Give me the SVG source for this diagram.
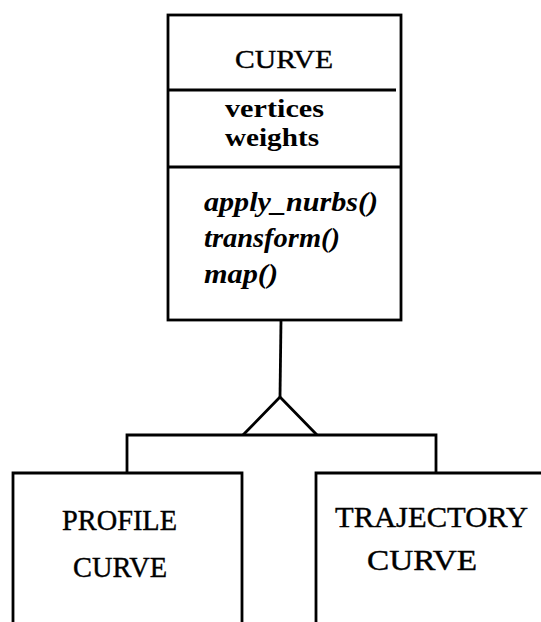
<svg xmlns="http://www.w3.org/2000/svg" width="541" height="622" viewBox="0 0 541 622">
  <style>
    .box { fill: none; stroke: #000; stroke-width: 2.8; stroke-linejoin: miter; }
    .conn { fill: none; stroke: #000; stroke-width: 2.8; stroke-linejoin: miter; }
    .title { font-family: "Liberation Serif", "Times New Roman", serif; font-size: 26px; fill: #000; stroke: #000; stroke-width: 0.4; }
    .attr { font-family: "Liberation Serif", "Times New Roman", serif; font-size: 26px; font-weight: bold; fill: #000; }
    .op { font-family: "Liberation Serif", "Times New Roman", serif; font-size: 27px; font-weight: bold; font-style: italic; fill: #000; }
    .sub { font-family: "Liberation Serif", "Times New Roman", serif; font-size: 29px; fill: #000; stroke: #000; stroke-width: 0.4; }
  </style>
  <rect width="541" height="622" fill="#fff"/>

  <!-- Superclass CURVE with attribute and operation compartments -->
  <g id="curve">
    <rect class="box" x="168" y="15" width="233" height="305"/>
    <line class="box" x1="168" y1="90" x2="396" y2="90"/>
    <line class="box" x1="168" y1="167" x2="401" y2="167"/>
    <text class="title" x="235" y="68" textLength="98" lengthAdjust="spacingAndGlyphs">CURVE</text>
    <text class="attr" x="225" y="117" textLength="99" lengthAdjust="spacingAndGlyphs">vertices</text>
    <text class="attr" x="225" y="146" textLength="94" lengthAdjust="spacingAndGlyphs">weights</text>
    <text class="op" x="204" y="211" textLength="174" lengthAdjust="spacingAndGlyphs">apply_nurbs()</text>
    <text class="op" x="204" y="247" textLength="136" lengthAdjust="spacingAndGlyphs">transform()</text>
    <text class="op" x="204" y="283" textLength="74" lengthAdjust="spacingAndGlyphs">map()</text>
  </g>

  <!-- Generalisation connector: stem, triangle and branch bar -->
  <g id="connectors">
    <line class="conn" x1="281" y1="320" x2="280" y2="397"/>
    <path class="conn" d="M243,435 L280,397 L317,435"/>
    <path class="conn" d="M127,473 V435 H436 V473"/>
  </g>

  <!-- Subclass PROFILE CURVE -->
  <g id="profile-curve">
    <path class="box" d="M13,622 V473 H242 V622"/>
    <text class="sub" x="62" y="530" textLength="115" lengthAdjust="spacingAndGlyphs">PROFILE</text>
    <text class="sub" x="73" y="577" textLength="94" lengthAdjust="spacingAndGlyphs">CURVE</text>
  </g>

  <!-- Subclass TRAJECTORY CURVE -->
  <g id="trajectory-curve">
    <path class="box" d="M316,622 V473 H543"/>
    <text class="sub" x="335" y="527" textLength="193" lengthAdjust="spacingAndGlyphs">TRAJECTORY</text>
    <text class="sub" x="367" y="570" textLength="110" lengthAdjust="spacingAndGlyphs">CURVE</text>
  </g>
</svg>
